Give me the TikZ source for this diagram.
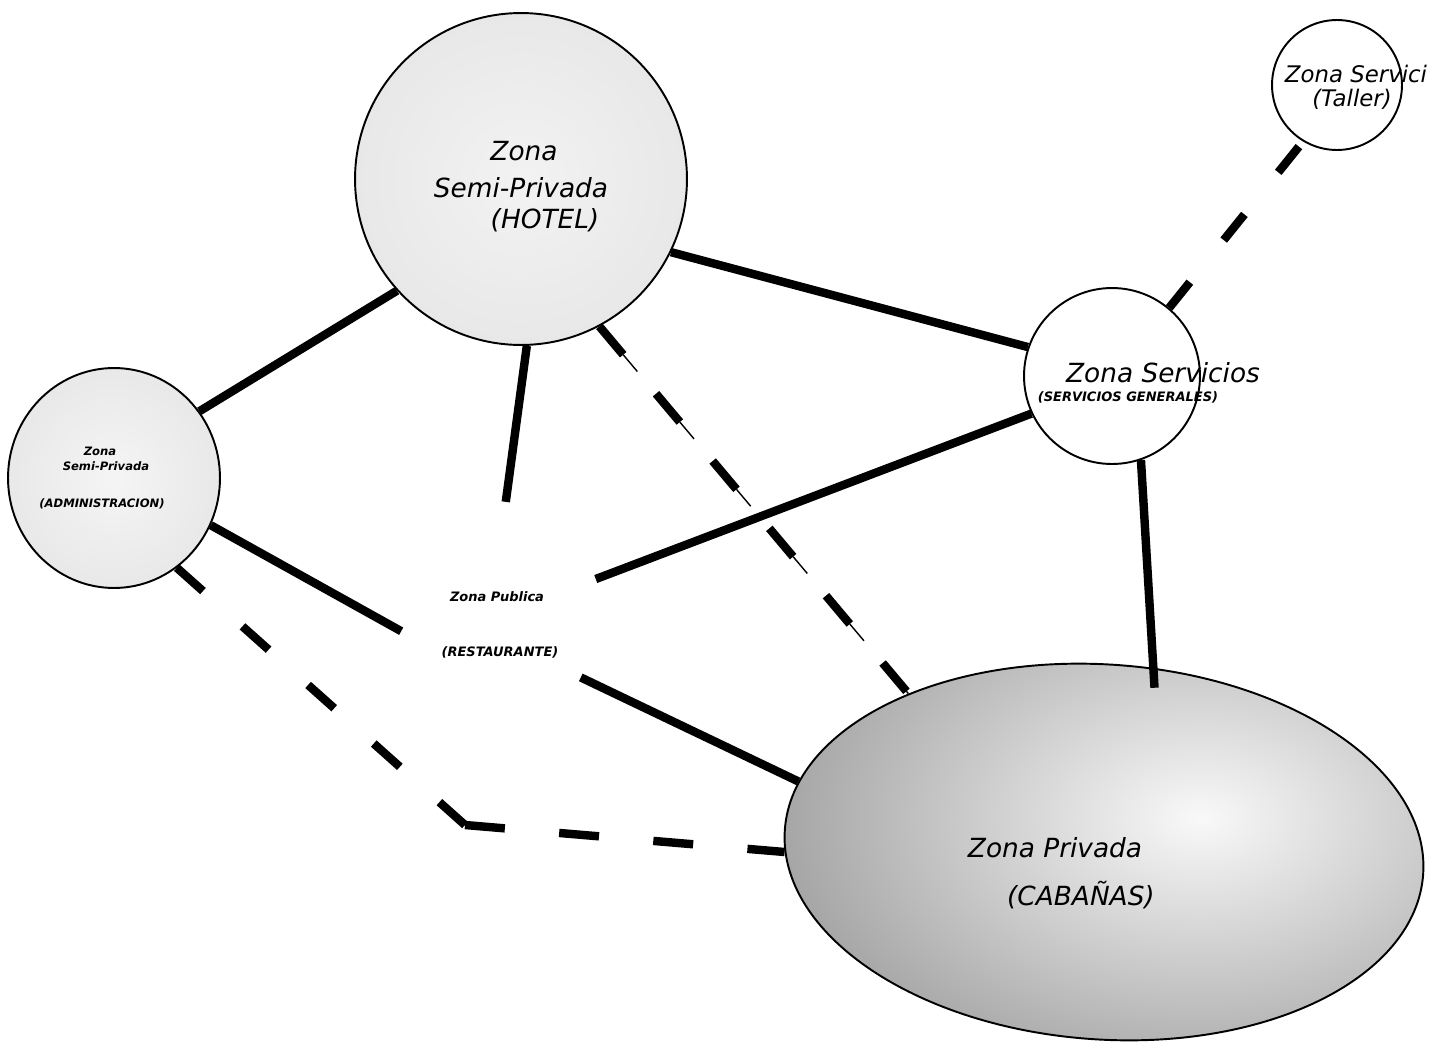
\documentclass[tikz,border=0pt]{standalone}
\usepackage{fontspec}
\setmainfont{DejaVu Sans}
\usetikzlibrary{shapes.geometric}
\tikzset{
  zone/.style={draw=black, line width=1.1pt, inner sep=0pt},
  link/.style={line width=4.8pt},
  dlink/.style={line width=4.8pt, dash pattern=on 0.74cm off 1.02cm},
  blinka/.style={line width=4.8pt, dash pattern=on 0.7cm off 1.06cm},
  blinkb/.style={line width=4.8pt, dash pattern=on 0.8cm off 1.09cm},
  tlink/.style={line width=4.8pt, dash pattern=on 0.66cm off 1.08cm},
  thinlink/.style={line width=0.8pt, dash pattern=on 0.44cm off 1.32cm, dash phase=1.02cm},
  bigtxt/.style={font=\fontsize{15}{18}\selectfont\itshape, anchor=base, inner sep=0pt},
  midtxt/.style={font=\fontsize{13}{16}\selectfont\itshape, anchor=base, inner sep=0pt},
  smalltxt/.style={font=\fontsize{7.4}{9}\selectfont\bfseries\itshape, anchor=base, inner sep=0pt},
  admtxt/.style={font=\fontsize{6.6}{8}\selectfont\bfseries\itshape, anchor=base, inner sep=0pt},
}
\begin{document}
\begin{tikzpicture}[x=0.02cm,y=-0.02cm]
\fill[white] (0,0) rectangle (1445,1055);
\useasboundingbox (0,0) rectangle (1445,1055);

% zones
\node[zone, circle, minimum size=6.64cm,
  path picture={\shade[inner color=gray!10, outer color=gray!26] (path picture bounding box.center) circle [radius=6.64cm];}]
  (hotel) at (521,179) {};
\node[zone, ellipse, minimum width=4.24cm, minimum height=4.4cm,
  path picture={\shade[inner color=gray!8, outer color=gray!28] (path picture bounding box.center) ellipse [x radius=4.3cm, y radius=4.5cm];}]
  (admin) at (114,478) {};
\node[zone, circle, minimum size=3.52cm, fill=white] (serv) at (1112,376) {};
\node[zone, circle, minimum size=2.6cm, fill=white] (taller) at (1337,85) {};
\node[zone, ellipse, rotate=-4, minimum width=12.8cm, minimum height=7.5cm,
  path picture={\fill[black!62] (path picture bounding box.south west) rectangle (path picture bounding box.north east);
    \shade[inner color=gray!5, outer color=black!62] ([xshift=1.9cm,yshift=0.4cm]path picture bounding box.center) ellipse [x radius=15cm, y radius=9.6cm];}]
  (cab) at (1104,852) {};
\node[ellipse, minimum width=4cm, minimum height=4.4cm, inner sep=0pt] (rest) at (500,612) {};
\coordinate (bend) at (465,825);

% solid connectors
\draw[link] (hotel.222) -- (admin.38);
\draw[link] (hotel.-88) -- (rest.87);
\draw[link] (hotel.-26) -- (serv.161);
\draw[link] (serv.205) -- (rest.19);
\draw[link] (admin.-26) -- (rest.191);
\draw[link] (rest.-39) -- (cab.171);
\draw[link, shorten >=-0.4cm] (serv.-71) -- (cab.79);

% dashed connectors
\draw[tlink] (serv.50) -- (taller.239);
\draw[dlink] (hotel.-62) -- (cab.145);
\draw[thinlink] (hotel.-62) -- (cab.145);
\draw[blinka] (admin.-55) -- (bend);
\draw[blinkb] (bend) -- (cab.184);

% texts
\node[bigtxt] (t1) at (524,160) {Zona};
\node[bigtxt] (t2) at (521,197) {Semi-Privada};
\node[bigtxt] (t3) at (545,228) {(HOTEL)};

\node[admtxt] (t4) at (100,455) {Zona};
\node[admtxt] (t5) at (106,470) {Semi-Privada};
\node[admtxt] (t6) at (102,507) {(ADMINISTRACION)};

\node[smalltxt] (t7) at (497,601) {Zona Publica};
\node[smalltxt] (t8) at (500,656) {(RESTAURANTE)};

\node[bigtxt] (t9) at (1163,382) {Zona Servicios};
\node[smalltxt] (t10) at (1128,401) {(SERVICIOS GENERALES)};

\node[midtxt] (t11) at (1356,82) {Zona Servici};
\node[midtxt] (t12) at (1352,106) {(Taller)};

\node[bigtxt] (t13) at (1055,857) {Zona Privada};
\node[bigtxt] (t14) at (1081,905) {(CABAÑAS)};
\end{tikzpicture}
\end{document}
